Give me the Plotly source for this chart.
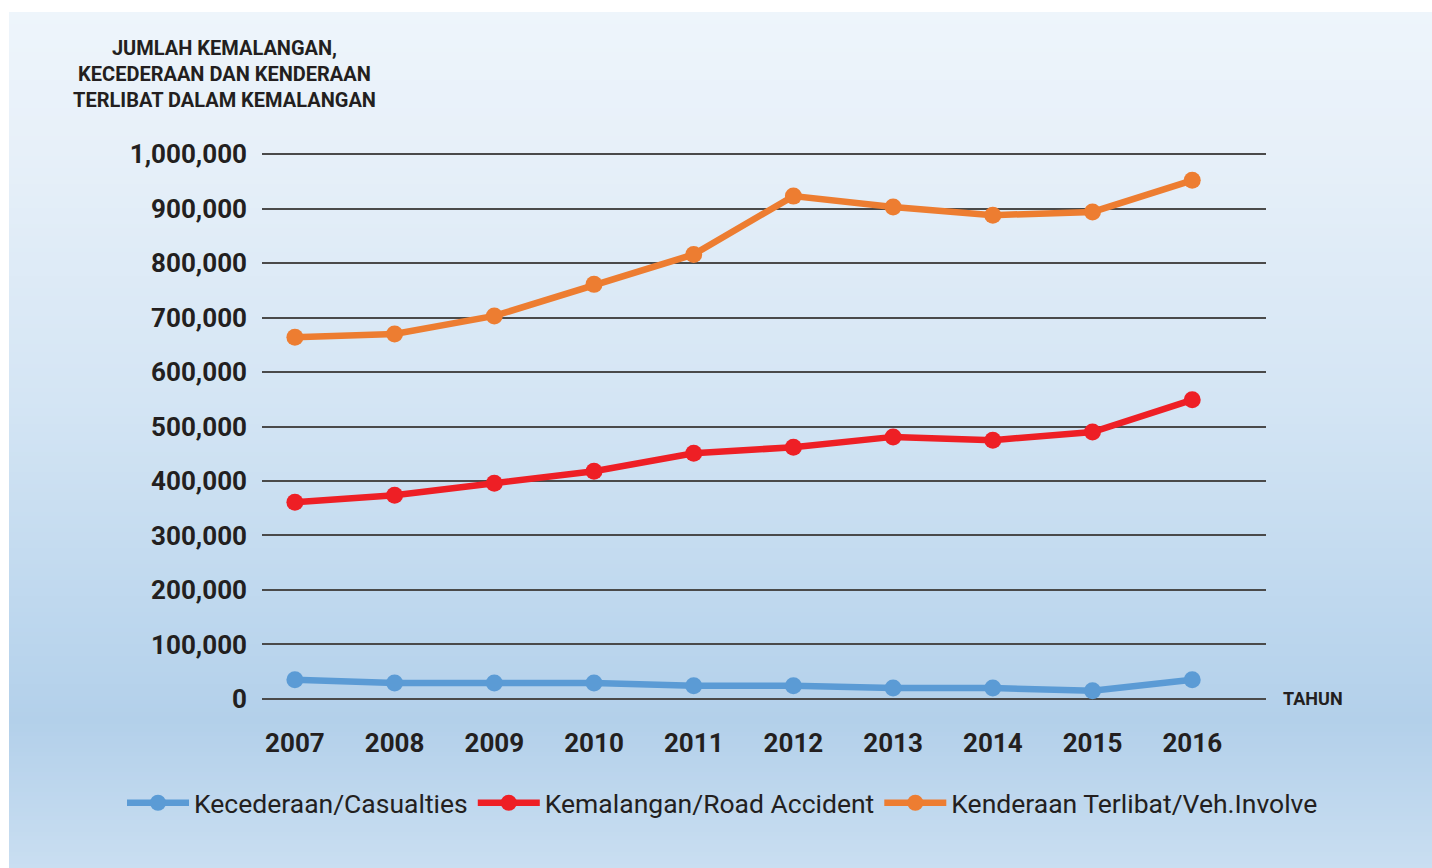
import plotly.graph_objects as go

years = [2007, 2008, 2009, 2010, 2011, 2012, 2013, 2014, 2015, 2016]
year_labels = [str(y) for y in years]
casualties = [35000, 29000, 29000, 29000, 24000, 24000, 20000, 20000, 15000, 35000]
accidents = [361000, 374000, 396000, 418000, 451000, 462000, 481000, 475000, 490000, 549000]
vehicles = [664000, 670000, 703000, 761000, 816000, 923000, 903000, 888000, 894000, 952000]
y_ticks = [0, 100000, 200000, 300000, 400000, 500000, 600000, 700000, 800000, 900000, 1000000]
y_tick_labels = ["0", "100,000", "200,000", "300,000", "400,000", "500,000",
                 "600,000", "700,000", "800,000", "900,000", "1,000,000"]

W, H = 1432, 868
L, R, T, B = 262, 166, 152, 168
PH = H - T - B

FONT = "Roboto, sans-serif"

fig = go.Figure()
series = [
    ("Kecederaan/Casualties", casualties, "#5b9bd5"),
    ("Kemalangan/Road Accident", accidents, "#ee1f25"),
    ("Kenderaan Terlibat/Veh.Involve", vehicles, "#ed7d31"),
]
for name, vals, col in series:
    fig.add_trace(go.Scatter(
        x=years, y=vals, name=name, mode="lines+markers",
        line=dict(color=col, width=6.5),
        marker=dict(color=col, size=17),
    ))

# background gradient (styling)
stops = [(12, (238, 245, 251)), (150, (231, 240, 249)), (400, (212, 229, 244)),
         (650, (186, 213, 237)), (720, (179, 208, 234)), (868, (201, 222, 241))]

def col_at(p):
    for (p0, c0), (p1, c1) in zip(stops[:-1], stops[1:]):
        if p0 <= p <= p1:
            f = (p - p0) / (p1 - p0)
            return "rgb(%d,%d,%d)" % tuple(round(a + (b - a) * f) for a, b in zip(c0, c1))
    return "rgb(%d,%d,%d)" % stops[-1][1]

def py(pix):
    return (H - B - pix) / PH

def px(pix):
    return (pix - L) / (W - L - R)

shapes = []
step = 4
for p in range(12, H, step):
    shapes.append(dict(type="rect", xref="paper", yref="paper",
                       x0=px(9), x1=px(W + 2), y0=py(p + step + 0.5), y1=py(p),
                       fillcolor=col_at(p + step / 2), line=dict(width=0), layer="below"))

fig.update_layout(
    width=W, height=H,
    margin=dict(l=L, r=R, t=T, b=B),
    paper_bgcolor="white",
    plot_bgcolor="rgba(0,0,0,0)",
    shapes=shapes,
    showlegend=True,
    legend=dict(orientation="h", x=px(122), xanchor="left", y=py(803), yanchor="middle",
                font=dict(family="Roboto, sans-serif", size=26.5, color="#231f20"),
                bgcolor="rgba(0,0,0,0)", itemwidth=62),
    xaxis=dict(range=[2006.67, 2016.74], tickmode="array", tickvals=years, ticktext=year_labels,
               showgrid=False, zeroline=False, showline=False, ticks="",
               tickfont=dict(family=FONT, size=26, color="#231f20", weight="bold"),
               ticklabelstandoff=25),
    yaxis=dict(range=[-2000, 1004000], tickmode="array", tickvals=y_ticks, ticktext=y_tick_labels,
               showgrid=True, gridcolor="#4a4a4a", gridwidth=1.5, zeroline=False, showline=False,
               ticks="", tickfont=dict(family=FONT, size=26, color="#231f20", weight="bold"),
               ticklabelstandoff=14),
    annotations=[
        dict(text="JUMLAH KEMALANGAN,<br>KECEDERAAN DAN KENDERAAN<br>TERLIBAT DALAM KEMALANGAN",
             xref="paper", yref="paper", x=px(224), y=py(74), xanchor="center", yanchor="middle",
             align="center", showarrow=False,
             font=dict(family=FONT, size=20, color="#231f20", weight="bold")),
        dict(text="TAHUN", xref="paper", yref="paper", x=px(1281), y=py(698),
             xanchor="left", yanchor="middle", showarrow=False,
             font=dict(family=FONT, size=18, color="#231f20", weight="bold")),
    ],
)

fig.write_html("out.html", config={"displayModeBar": False},
               post_script="document.body.style.margin='0';document.body.style.overflow='hidden';")
